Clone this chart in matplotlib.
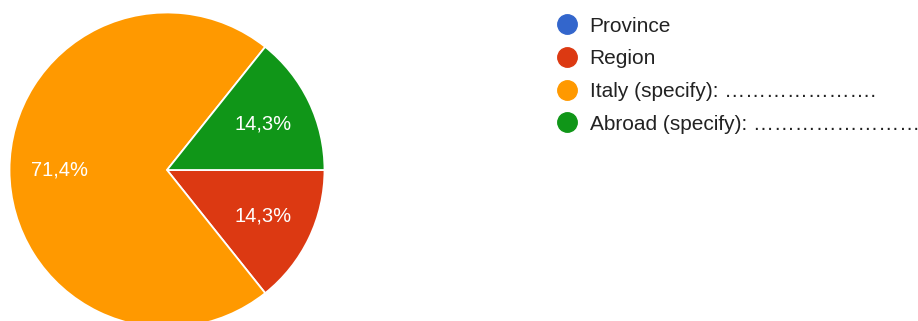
import matplotlib

matplotlib.use("Agg")
import matplotlib.pyplot as plt
from matplotlib.lines import Line2D

plt.rcParams["font.family"] = ["Liberation Sans", "DejaVu Sans"]

# survey answers: where the respondent comes from
categories = ["Province", "Region", "Italy (specify): " + "\u2026" * 7 + ".",
              "Abroad (specify): " + "\u2026" * 8]
counts = [0, 1, 5, 1]
colors = ["#3366CC", "#DC3912", "#FF9900", "#109618"]

W, H, DPI = 918, 321, 100
fig = plt.figure(figsize=(W / DPI, H / DPI), dpi=DPI)

# pie: centre (167, 170) px, radius ~157 px, bottom gets cut by the canvas
r_px = 157.5
cx, cy = 167, 170
ax = fig.add_axes([(cx - r_px) / W, (H - cy - r_px) / H, 2 * r_px / W, 2 * r_px / H])


def pct_label(p):
    if p < 0.05:
        return ""
    return f"{p:.1f}%".replace(".", ",")


wedges, texts, autotexts = ax.pie(
    counts, colors=colors, startangle=0, counterclock=False, radius=1,
    autopct=pct_label, pctdistance=0.68,
    wedgeprops=dict(edgecolor="white", linewidth=1.3),
    textprops=dict(color="white", fontsize=14.5),
)
ax.set_xlim(-1, 1)
ax.set_ylim(-1, 1)
ax.set_aspect("equal")
ax.axis("off")

handles = [Line2D([], [], linestyle="none", marker="o", markersize=14,
                  markerfacecolor=c, markeredgecolor=c) for c in colors]
fig.legend(handles, categories, loc="upper left",
           bbox_to_anchor=(557 / W, (H - 16.5) / H), frameon=False,
           fontsize=15, labelcolor="#222222", handlelength=1.0,
           handletextpad=0.56, labelspacing=0.66, borderpad=0, borderaxespad=0)

fig.savefig("out.png", dpi=DPI)
